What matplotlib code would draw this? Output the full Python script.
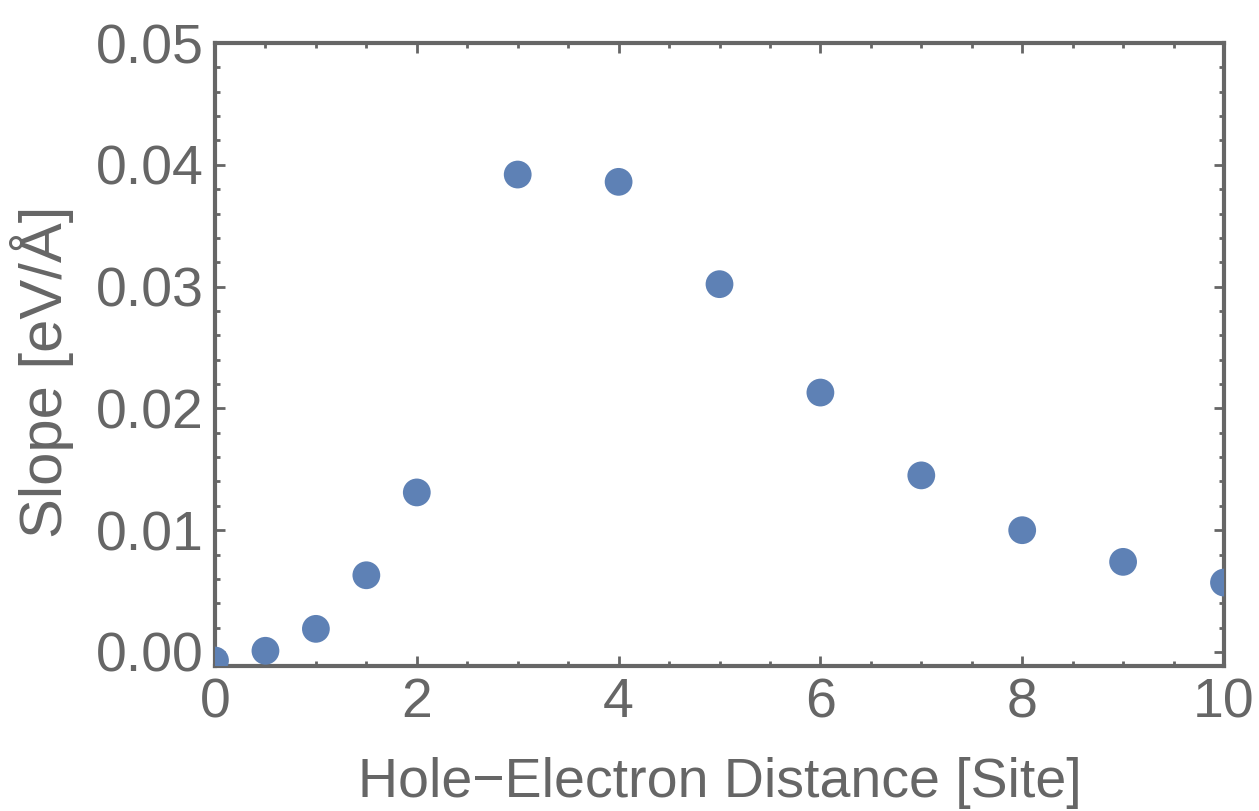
import numpy as np
import matplotlib
matplotlib.use('Agg')
import matplotlib.pyplot as plt
from matplotlib.ticker import MultipleLocator

# distancia hole-electron e slope
distancia = [0, 0.5, 1, 1.5, 2, 3, 4, 5, 6, 7, 8, 9, 10]
slope = [-0.0007, 0.0001, 0.0019, 0.0063, 0.0131, 0.0392, 0.0386,
         0.0302, 0.0213, 0.0145, 0.0100, 0.0074, 0.0057]

cinza = '#666666'
azul = '#5e81b5'

plt.rcParams['font.family'] = ['Liberation Sans', 'DejaVu Sans']

fig = plt.figure(figsize=(12.59, 8.11), dpi=100)
ax = fig.add_axes([215/1259, 1 - 666/811, (1224 - 215)/1259, (666 - 43)/811])

ax.scatter(distancia, slope, s=400, color=azul, edgecolors='none', zorder=3)

ax.set_xlim(0, 10)
ax.set_ylim(-0.00115, 0.05)

ax.xaxis.set_major_locator(MultipleLocator(2))
ax.xaxis.set_minor_locator(MultipleLocator(0.5))
ax.yaxis.set_major_locator(MultipleLocator(0.01))
ax.yaxis.set_minor_locator(MultipleLocator(0.002))
ax.set_yticks([0, 0.01, 0.02, 0.03, 0.04, 0.05])
ax.set_yticklabels(['0.00', '0.01', '0.02', '0.03', '0.04', '0.05'])

ax.tick_params(which='both', direction='in', top=True, right=True,
               color=cinza, width=2, labelsize=40, labelcolor=cinza, pad=8)
ax.tick_params(which='major', length=7.5)
ax.tick_params(which='minor', length=3.8)

for sp in ax.spines.values():
    sp.set_color(cinza)
    sp.set_linewidth(3)

ax.set_xlabel('Hole\u2212Electron Distance [Site]', fontsize=40, color=cinza, labelpad=20)
ax.set_ylabel('Slope [eV/\u00c5]', fontsize=43, color=cinza)
ax.yaxis.set_label_coords(-0.140, 0.473)

fig.savefig('out.png', dpi=100)
